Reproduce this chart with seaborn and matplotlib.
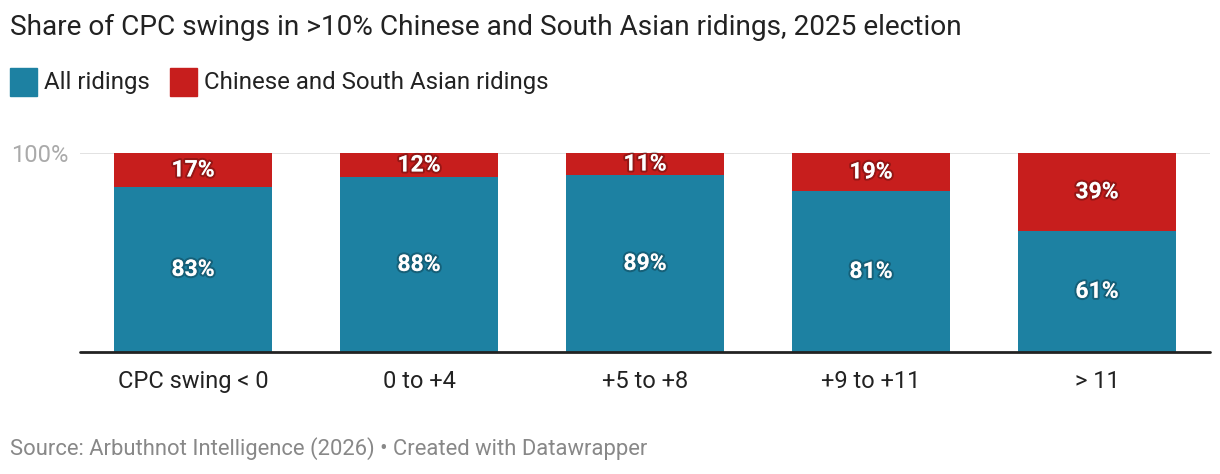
import pandas as pd
import numpy as np
import matplotlib.pyplot as plt
import matplotlib.patheffects as pe
from matplotlib.patches import Rectangle
import seaborn as sns

# data
categories = ["CPC swing < 0", "0 to +4", "+5 to +8", "+9 to +11", "> 11"]
all_ridings = [83, 88, 89, 81, 61]
cs_ridings = [17, 12, 11, 19, 39]

blue = "#1d81a2"
red = "#c71e1d"

df = pd.DataFrame({"cat": categories, "all": all_ridings, "cs": cs_ridings})
df["total"] = df["all"] + df["cs"]

sns.set_style("white")
plt.rcParams["font.family"] = ["Roboto", "DejaVu Sans"]

fig = plt.figure(figsize=(12.2, 4.74), dpi=100)
ax = fig.add_axes([80 / 1220, 1 - 352 / 474, 1130 / 1220, 199 / 474])

# red stacked on top (full height), blue below
sns.barplot(data=df, x="cat", y="total", color=red, width=0.7, saturation=1,
            linewidth=0, ax=ax, zorder=2)
sns.barplot(data=df, x="cat", y="all", color=blue, width=0.7, saturation=1,
            linewidth=0, ax=ax, zorder=3)

ax.set_xlim(-0.5, 4.5)
ax.set_ylim(0, 100)
ax.set_xlabel("")
ax.set_ylabel("")

ax.axhline(100, color="#dddddd", lw=1.2, zorder=1)
ax.axhline(0, color="#222222", lw=2, zorder=5, clip_on=False)
for s in ax.spines.values():
    s.set_visible(False)

ax.set_yticks([100])
ax.set_yticklabels(["100%"], color="#aaaaaa", fontsize=17)
ax.tick_params(axis="y", length=0, pad=8)
ax.tick_params(axis="x", length=0, pad=13, labelsize=17, labelcolor="#222222")

shadow = [pe.withStroke(linewidth=3, foreground=(0, 0, 0, 0.25))]
for i, row in df.iterrows():
    ax.text(i, row["all"] / 2, f"{row['all']}%", ha="center", va="center",
            color="white", fontsize=16.5, fontweight="bold", path_effects=shadow, zorder=6)
    ax.text(i, row["all"] + row["cs"] / 2, f"{row['cs']}%", ha="center", va="center",
            color="white", fontsize=16.5, fontweight="bold", path_effects=shadow, zorder=6)

fig.text(10 / 1220, 1 - 27 / 474, "Share of CPC swings in >10% Chinese and South Asian ridings, 2025 election",
         fontsize=20.2, color="#222222", va="center", ha="left")

# legend
for x0, lab, c in [(10, "All ridings", blue), (170, "Chinese and South Asian ridings", red)]:
    fig.patches.append(Rectangle((x0 / 1220, 1 - 96 / 474), 27 / 1220, 28 / 474,
                                 transform=fig.transFigure, color=c))
    fig.text((x0 + 34) / 1220, 1 - 82 / 474, lab, fontsize=17.3, color="#222222", va="center", ha="left")

fig.text(10 / 1220, 1 - 449 / 474, "Source: Arbuthnot Intelligence (2026) • Created with Datawrapper",
         fontsize=15.8, color="#888888", va="center", ha="left")

fig.savefig("out.png", dpi=100)
